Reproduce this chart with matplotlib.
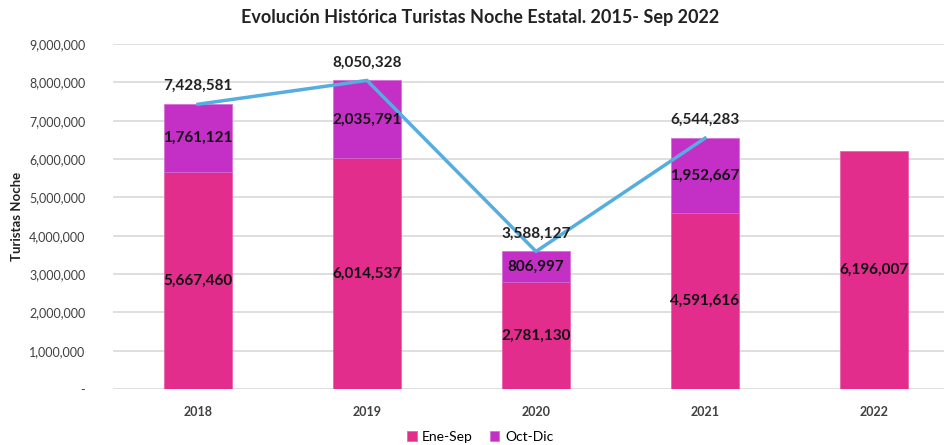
import matplotlib.pyplot as plt
import numpy as np
from matplotlib.ticker import FuncFormatter

# data
years = ["2018", "2019", "2020", "2021", "2022"]
ene_sep = [5667460, 6014537, 2781130, 4591616, 6196007]
oct_dic = [1761121, 2035791, 806997, 1952667, 0]
totales = [7428581, 8050328, 3588127, 6544283]

c_ene = "#E22D8C"
c_oct = "#C42FC6"
c_line = "#56ADE0"

plt.rcParams["font.family"] = ["Lato", "DejaVu Sans"]

fig = plt.figure(figsize=(9.45, 4.45), dpi=100)
ax = fig.add_axes([113 / 945, 1 - 389 / 445, 1 - 113 / 945, (389 - 44) / 445])

x = np.arange(len(years))
w = 0.4
b1 = ax.bar(x, ene_sep, w, color=c_ene, edgecolor="#E55BA6", linewidth=0.5, label="Ene-Sep", zorder=2)
b2 = ax.bar(x[:4], oct_dic[:4], w, bottom=ene_sep[:4], color=c_oct, edgecolor="#D06BD3",
            linewidth=0.5, label="Oct-Dic", zorder=2)
ax.plot(x[:4], totales, color=c_line, lw=2.5, zorder=3)

fmt = lambda v: "{:,}".format(v)
for i, v in enumerate(ene_sep):
    ax.text(i, v / 2, fmt(v), ha="center", va="center", fontsize=11, fontweight="bold", color="#111111", zorder=4)
for i in range(4):
    ax.text(i, ene_sep[i] + oct_dic[i] / 2, fmt(oct_dic[i]), ha="center", va="center",
            fontsize=11, fontweight="bold", color="#111111", zorder=4)
    ax.annotate(fmt(totales[i]), (i, totales[i]), xytext=(0, 13), textcoords="offset points",
                ha="center", va="center", fontsize=11, fontweight="bold", color="#222222", zorder=4)

ax.set_xlim(-0.503, 4.42)
ax.set_ylim(0, 9000000)
ax.set_yticks(np.arange(0, 9000001, 1000000))
ax.yaxis.set_major_formatter(FuncFormatter(lambda v, p: "-" if v == 0 else "{:,.0f}".format(v)))
ax.set_xticks(x)
ax.set_xticklabels(years, fontweight="bold")
ax.tick_params(axis="both", length=0, labelsize=9, colors="#404040")
ax.tick_params(axis="y", pad=20)
ax.tick_params(axis="x", pad=12)
ax.grid(axis="y", color="#D9D9D9", lw=1.2, zorder=0)
for s in ax.spines.values():
    s.set_visible(False)
ax.set_ylabel("Turistas Noche", fontsize=9.5, fontweight="bold", color="#222222", labelpad=6)
ax.yaxis.set_label_coords(-0.108, 0.5)

fig.text(480 / 945, 1 - 17 / 445, "Evolución Histórica Turistas Noche Estatal. 2015- Sep 2022",
         ha="center", va="center", fontsize=13, fontweight="bold", color="#222222")

fig.legend(handles=[b1, b2], loc="center", bbox_to_anchor=(480 / 945, 1 - 437 / 445), ncol=2,
           frameon=False, fontsize=10, handlelength=0.7, handleheight=0.7, columnspacing=1.2,
           handletextpad=0.4)

fig.savefig("out.png", dpi=100)
